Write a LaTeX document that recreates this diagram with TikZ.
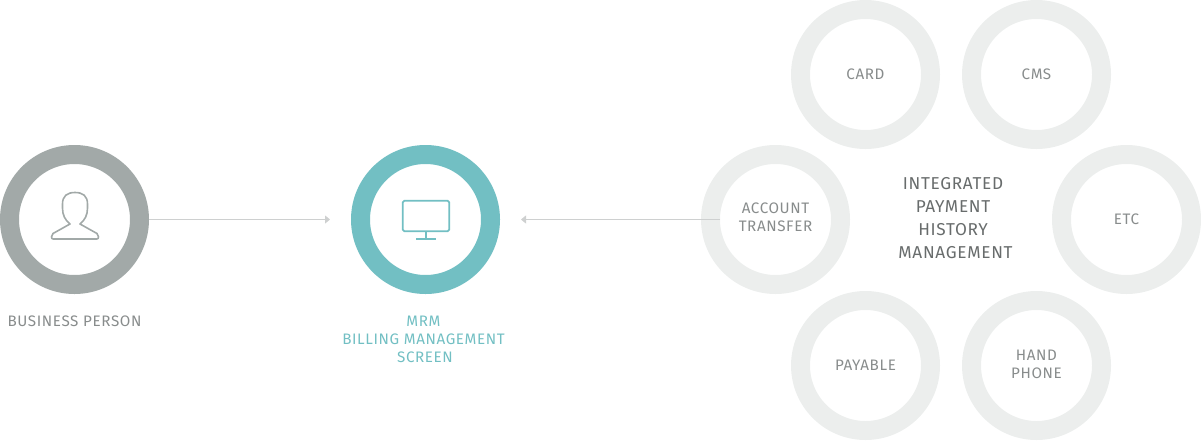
\documentclass[tikz,border=0pt]{standalone}
\usepackage{fontspec}
\setmainfont{Fira Sans}[LetterSpace=4]
\usepackage{tikz}
\usetikzlibrary{arrows.meta, positioning}
\usepackage{xcolor}
\definecolor{ringgrey}{RGB}{162,169,168}
\definecolor{ringteal}{RGB}{114,191,195}
\definecolor{ringlight}{RGB}{236,238,237}
\definecolor{linegrey}{RGB}{206,208,208}
\definecolor{labelgrey}{RGB}{136,140,140}
\definecolor{titlegrey}{RGB}{104,108,108}

\tikzset{
  ring/.style={draw=#1, circle, line width=19pt, minimum size=130pt, inner sep=0pt, align=center, text=labelgrey, font=\fontsize{15.2}{18}\selectfont},
  caption/.style={align=center, font=\fontsize{15.2}{18}\selectfont},
  conn/.style={draw=linegrey, line width=0.9pt, -{Triangle[length=5pt, width=8pt]}}
}

\begin{document}
\begin{tikzpicture}[x=1pt, y=-1pt]
  \useasboundingbox (0, 0) rectangle (1201, 440);
  % Main rings
  \node[ring=ringgrey] (person) at (74.5, 219.5) {};
  \node[ring=ringteal] (screen) at (425.5, 219.5) {};
  % Source rings
  \node[ring=ringlight, text depth=4pt] (account) at (775.5, 219.5) {ACCOUNT\\TRANSFER};
  \node[ring=ringlight] (card) at (865.5, 74.5) {CARD};
  \node[ring=ringlight] (cms) at (1036.5, 74.5) {CMS};
  \node[ring=ringlight] (etc) at (1126.5, 219.5) {ETC};
  \node[ring=ringlight] (payable) at (865.5, 365.5) {PAYABLE};
  \node[ring=ringlight, text depth=2pt] (hand) at (1036.5, 365.5) {HAND\\PHONE};
  % Captions
  \node[caption, labelgrey] (personlabel) at (74.5, 321) {BUSINESS PERSON};
  \node[caption, ringteal] (screenlabel) at (423.5, 339) {MRM\\BILLING MANAGEMENT\\\kern3pt SCREEN};
  \node[align=center, titlegrey, font=\fontsize{17.2}{23}\selectfont] (title) at (955.5, 218.5) {INTEGRATED\kern5pt\\PAYMENT\kern5pt\\HISTORY\kern5pt\\MANAGEMENT};
  % Arrows
  \draw[conn, shorten >=21pt] (person.east) -- (screen.west);
  \draw[conn, shorten <=-19pt, shorten >=21pt] (account.west) -- (screen.east);
  % Person icon
  \draw[ringgrey, line width=1.6pt, line join=round] (70, 224) .. controls (65, 220) and (62.5, 215) .. (62.5, 208) -- (62.5, 204) .. controls (62.5, 196) and (67, 192.5) .. (75, 192.5) .. controls (83, 192.5) and (87.5, 196) .. (87.5, 204) -- (87.5, 208) .. controls (87.5, 215) and (85, 220) .. (80, 224) -- (97, 233.5) .. controls (99, 235) and (99, 239) .. (97, 239) -- (53, 239) .. controls (51, 239) and (51, 235) .. (53, 233.5) -- cycle;
  % Monitor icon
  \draw[ringteal, line width=1.7pt, rounded corners=1.5pt] (402.8, 200.8) rectangle (449.2, 231.2);
  \draw[ringteal, line width=1.7pt] (426, 231.2) -- (426, 239);
  \draw[ringteal, line width=1.7pt] (416.3, 239) -- (435.7, 239);
\end{tikzpicture}
\end{document}
